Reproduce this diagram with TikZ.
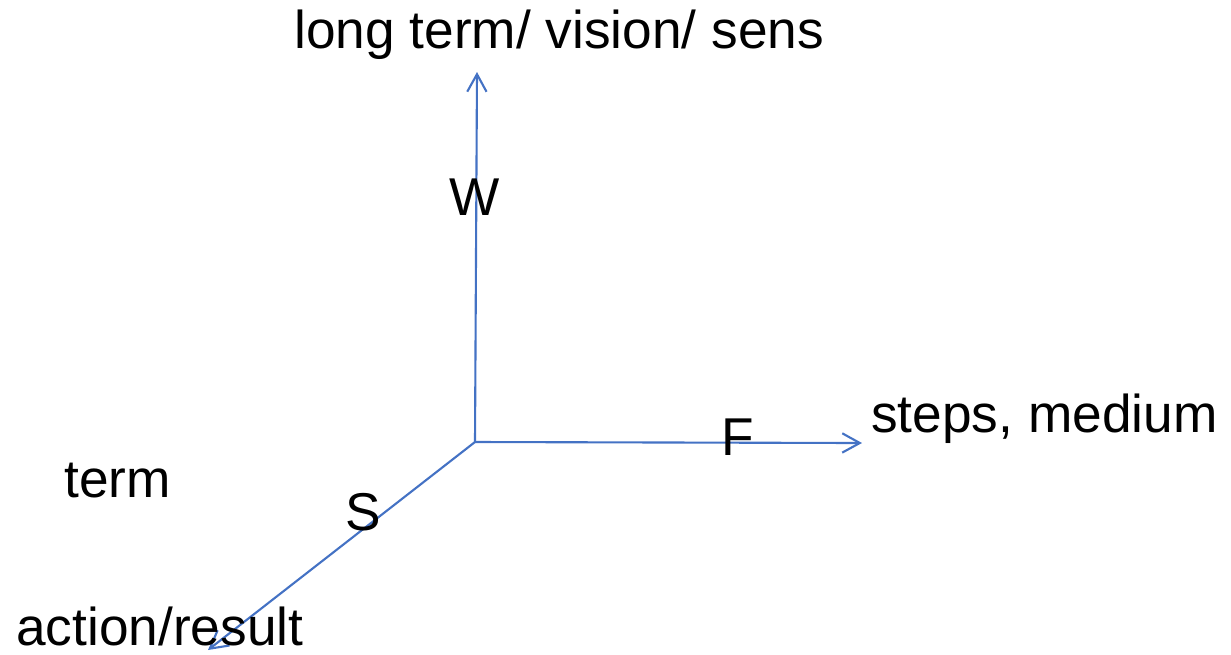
\documentclass[tikz,border=0pt]{standalone}
\usepackage{fontspec}
\setmainfont{Liberation Sans}
\usetikzlibrary{arrows.meta}
\definecolor{axisblue}{RGB}{68,114,196}

\tikzset{
	axis/.style={draw=axisblue, line width=1.2pt, -{Straight Barb[length=10pt, width=11pt, line width=1.2pt]}},
	lbl/.style={inner sep=0pt, anchor=base west, font=\fontsize{30.3}{36}\selectfont}
}

\begin{document}
\begin{tikzpicture}[x=0.02cm, y=-0.02cm]
			\useasboundingbox (0,0) rectangle (1231,654);
			
			% Origine e estremi degli assi
			\coordinate (o) at (475, 442);
			\coordinate (top) at (477, 72);
			\coordinate (right) at (862, 443);
			\coordinate (down) at (208, 650);
			
			% Assi
			\draw[axis] (o) -- (top);
			\draw[axis] (o) -- (right);
			\draw[axis] (o) -- (down);
			
			% Etichette
			\node[lbl] (vision) at (294, 48) {long term/ vision/ sens};
			\node[lbl] (w) at (449, 215) {W};
			\node[lbl] (steps) at (871, 432) {steps, medium};
			\node[lbl] (f) at (721, 455) {F};
			\node[lbl] (term) at (64, 497) {term};
			\node[lbl] (s) at (345, 530) {S};
			\node[lbl] (action) at (16, 645) {action/result};
		\end{tikzpicture}
\end{document}
